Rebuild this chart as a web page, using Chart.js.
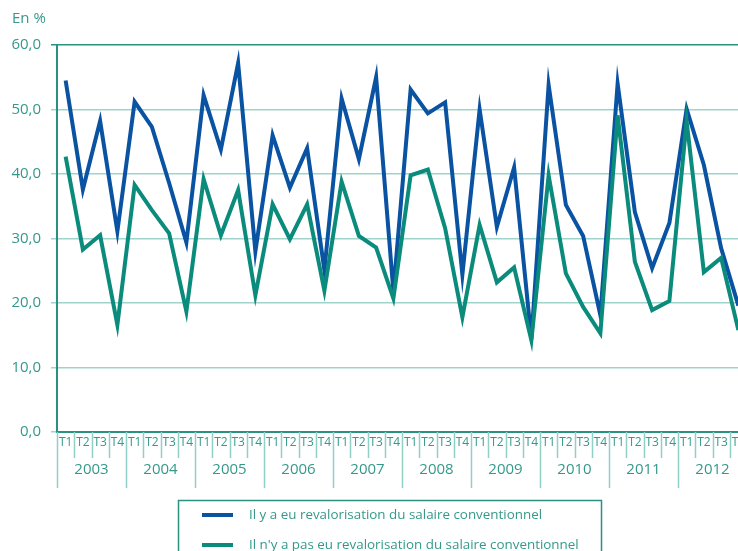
<!DOCTYPE html>
<html>
<head>
<meta charset="utf-8">
<script src="https://cdn.jsdelivr.net/npm/chart.js@4"></script>
<style>
  body { margin: 0; background: #fff; }
  #wrap { position: relative; width: 738px; height: 551px; overflow: hidden; }
</style>
</head>
<body>
<div id="wrap"><canvas id="chart" width="750" height="551"></canvas></div>
<script>
const years = ['2003', '2004', '2005', '2006', '2007', '2008', '2009', '2010', '2011', '2012'];
const quarters = ['T1', 'T2', 'T3', 'T4'];
// Il y a eu revalorisation
const avecRevalo = [
  54.5, 37.6, 48.2, 31.1,
  51.2, 47.3, 38.6, 29.4,
  52.2, 43.8, 57.2, 28.0,
  46.0, 37.9, 44.0, 25.1,
  51.7, 42.3, 55.0, 21.8,
  53.1, 49.4, 51.1, 24.4,
  50.0, 31.8, 41.0, 14.4,
  53.8, 35.2, 30.4, 18.1,
  54.0, 34.1, 25.4, 32.4,
  50.1, 41.4, 28.5, 19.6
];
// Il n'y a pas eu revalorisation
const sansRevalo = [
  42.7, 28.3, 30.5, 16.6,
  38.3, 34.4, 30.8, 18.7,
  39.2, 30.5, 37.5, 21.2,
  35.3, 29.9, 35.3, 21.9,
  38.8, 30.4, 28.6, 20.7,
  39.8, 40.7, 31.6, 17.8,
  32.1, 23.2, 25.5, 14.2,
  39.8, 24.6, 19.4, 15.3,
  49.1, 26.4, 18.9, 20.3,
  48.2, 24.8, 27.0, 15.8
];
const seriesNames = [
  'Il y a eu revalorisation du salaire conventionnel',
  "Il n'y a pas eu revalorisation du salaire conventionnel"
];
const yMin = 0, yMax = 60, yStep = 10;

const labels = years.flatMap(() => quarters);
const blue = '#0a52a2';
const green = '#0b8b7b';
const teal = '#34998b';
const dark = '#2a9082';
const light = '#9fd3cb';

Chart.defaults.font.family = "'Open Sans', sans-serif";

const decor = {
  id: 'decor',
  afterDraw(chart) {
    const { ctx, chartArea } = chart;
    const x = chart.scales.x;
    const bottom = chartArea.bottom;
    ctx.save();
    // quarter / year separators
    ctx.strokeStyle = '#92cfc6';
    ctx.lineWidth = 1.5;
    for (let i = 0; i <= labels.length; i++) {
      const px = Math.round(x.getPixelForValue(i - 0.5)) + 0.5;
      ctx.beginPath();
      ctx.moveTo(px, bottom);
      ctx.lineTo(px, bottom + (i % 4 === 0 ? 56 : 26));
      ctx.stroke();
    }
    // year labels
    ctx.fillStyle = teal;
    ctx.font = "15px 'Open Sans'";
    ctx.textAlign = 'center';
    ctx.textBaseline = 'middle';
    years.forEach((yr, k) => {
      const cx = (x.getPixelForValue(4 * k) + x.getPixelForValue(4 * k + 3)) / 2;
      ctx.fillText(yr, cx, bottom + 38);
    });
    // unit
    ctx.textAlign = 'left';
    ctx.fillText('En %', 12, 19);
    // legend
    ctx.strokeStyle = dark;
    ctx.lineWidth = 1.5;
    ctx.strokeRect(178.5, 500.5, 423, 70);
    ctx.font = "13.4px 'Open Sans'";
    chart.data.datasets.forEach((ds, i) => {
      const ly = 515 + i * 30;
      ctx.strokeStyle = ds.borderColor;
      ctx.lineWidth = 4;
      ctx.beginPath();
      ctx.moveTo(202, ly);
      ctx.lineTo(233, ly);
      ctx.stroke();
      ctx.fillStyle = teal;
      ctx.fillText(ds.label, 249, ly);
    });
    ctx.restore();
  }
};

new Chart(document.getElementById('chart'), {
  type: 'line',
  data: {
    labels: labels,
    datasets: [
      { label: seriesNames[0], data: avecRevalo, borderColor: blue, backgroundColor: blue, borderWidth: 4, pointRadius: 0, tension: 0, order: 1 },
      { label: seriesNames[1], data: sansRevalo, borderColor: green, backgroundColor: green, borderWidth: 4, pointRadius: 0, tension: 0, order: 0 }
    ]
  },
  options: {
    responsive: false,
    animation: false,
    layout: { padding: { top: 45, right: 3, left: 0, bottom: 0 } },
    plugins: { legend: { display: false }, tooltip: { enabled: false } },
    scales: {
      x: {
        offset: true,
        afterFit(s) { s.height = 119; },
        ticks: { autoSkip: false, maxRotation: 0, color: teal, font: { size: 12 }, padding: 3 },
        grid: { display: true, drawOnChartArea: false, drawTicks: false },
        border: { color: dark, width: 2 }
      },
      y: {
        min: yMin, max: yMax,
        afterFit(s) { s.width = 57; },
        ticks: {
          stepSize: yStep, color: teal, font: { size: 15 }, padding: 10,
          callback: v => v.toFixed(1).replace('.', ',')
        },
        grid: {
          color: c => (c.tick && (c.tick.value === yMax) ? dark : light),
          lineWidth: 1.5, tickLength: 6
        },
        border: { color: dark, width: 2 }
      }
    }
  },
  plugins: [decor]
});
</script>
</body>
</html>
